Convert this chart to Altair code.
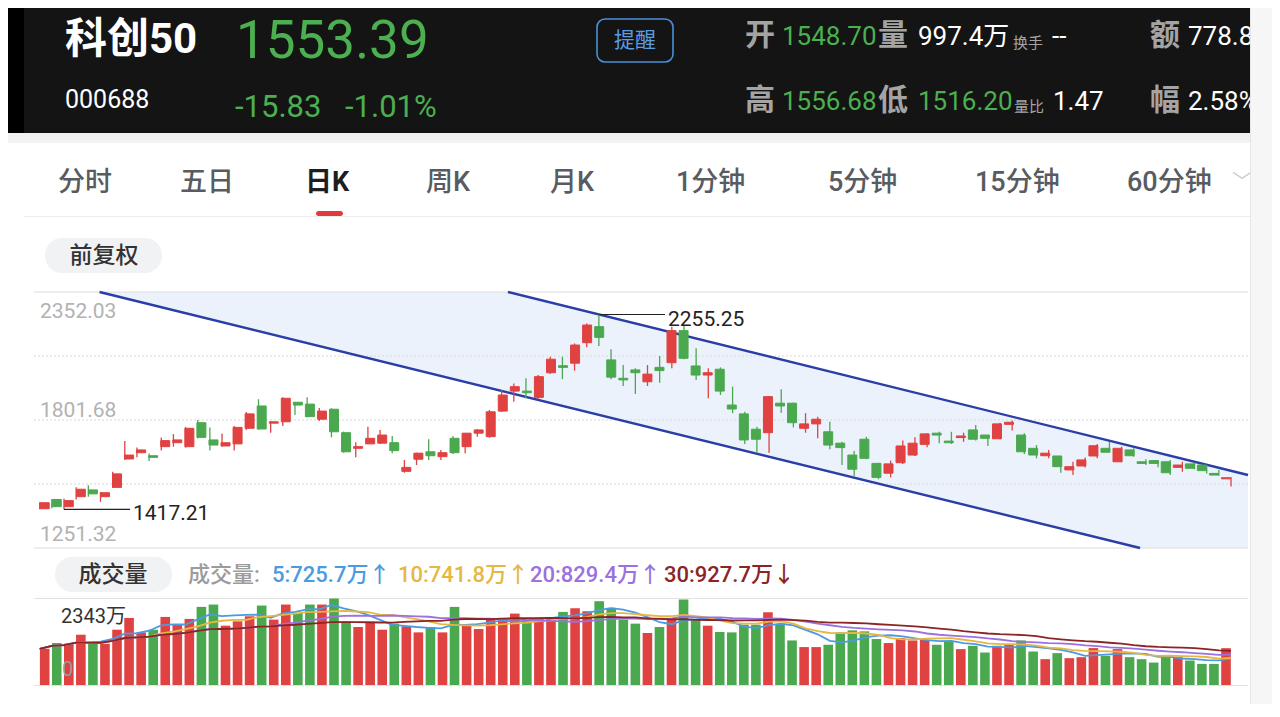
import altair as alt
import numpy as np
import pandas as pd

# ---------------- data ----------------
opens = [1420, 1460, 1429, 1472, 1501, 1472, 1512, 1634, 1661, 1648,
         1687, 1704, 1687, 1790, 1716, 1690, 1699, 1766, 1862, 1788,
         1794, 1878, 1870, 1805, 1848, 1747, 1680, 1699, 1702, 1704,
         1581, 1633, 1665, 1644, 1723, 1687, 1745, 1730, 1840, 1926,
         1926, 1899, 2005, 2035, 2046, 2134, 2203, 2060, 1981, 2017,
         1966, 2028, 2048, 2186, 2034, 1995, 2020, 1866, 1828, 1762,
         1747, 1874, 1874, 1766, 1785, 1751, 1702, 1651, 1719, 1615,
         1573, 1618, 1651, 1697, 1745, 1711, 1726, 1759, 1737, 1721,
         1783, 1737, 1680, 1648, 1647, 1587, 1604, 1647, 1680, 1622,
         1673, 1622, 1627, 1622, 1598, 1613, 1608, 1572, 1548.70]
highs = [1448, 1462, 1463, 1512, 1521, 1492, 1579, 1711, 1683, 1658,
         1726, 1741, 1772, 1802, 1769, 1744, 1776, 1836, 1891, 1795,
         1899, 1879, 1899, 1853, 1852, 1752, 1706, 1773, 1759, 1733,
         1630, 1661, 1719, 1673, 1733, 1745, 1762, 1845, 1931, 1959,
         1981, 1995, 2074, 2074, 2131, 2217, 2255.25, 2106, 2038, 2024,
         2038, 2077, 2203, 2210, 2110, 2024, 2028, 1945, 1837, 1773,
         1905, 1934, 1876, 1831, 1816, 1794, 1708, 1668, 1730, 1618,
         1627, 1713, 1727, 1745, 1751, 1751, 1747, 1780, 1737, 1790,
         1799, 1745, 1694, 1673, 1647, 1622, 1640, 1699, 1708, 1687,
         1680, 1633, 1630, 1630, 1622, 1618, 1608, 1587, 1556.68]
lows = [1418, 1422, 1417.21, 1460, 1472, 1450, 1510, 1630, 1641, 1625,
        1670, 1687, 1683, 1722, 1670, 1687, 1670, 1759, 1760, 1747,
        1776, 1823, 1813, 1797, 1727, 1661, 1641, 1698, 1699, 1659,
        1575, 1608, 1630, 1630, 1656, 1659, 1730, 1726, 1837, 1880,
        1895, 1891, 1999, 1977, 2014, 2114, 2120, 1977, 1948, 1913,
        1948, 1962, 2024, 2063, 1974, 1895, 1909, 1831, 1699, 1659,
        1661, 1833, 1770, 1747, 1723, 1676, 1608, 1561, 1633, 1547,
        1555, 1613, 1647, 1684, 1702, 1699, 1708, 1713, 1690, 1719,
        1756, 1656, 1637, 1637, 1575, 1565, 1597, 1637, 1663, 1620,
        1644, 1608, 1598, 1565, 1579, 1590, 1572, 1562, 1516.20]
closes = [1446, 1429, 1455, 1504, 1484, 1489, 1570, 1651, 1673, 1641,
          1713, 1716, 1766, 1727, 1694, 1704, 1770, 1828, 1763, 1794,
          1895, 1866, 1816, 1840, 1751, 1665, 1687, 1723, 1737, 1670,
          1598, 1659, 1648, 1661, 1661, 1745, 1759, 1837, 1909, 1945,
          1919, 1988, 2063, 2028, 2124, 2210, 2157, 1986, 1974, 2005,
          1999, 2014, 2186, 2067, 1995, 2005, 1926, 1849, 1716, 1719,
          1902, 1862, 1790, 1785, 1805, 1694, 1683, 1590, 1637, 1555,
          1613, 1690, 1702, 1742, 1737, 1704, 1733, 1719, 1723, 1785,
          1792, 1665, 1651, 1659, 1601, 1601, 1630, 1691, 1663, 1680,
          1648, 1615, 1615, 1575, 1608, 1594, 1584, 1565, 1553.39]
volumes = [981, 1136, 1120, 1362, 1152, 1117, 1498, 1816, 1425, 1498,
           1844, 1634, 1790, 2116, 2179, 1607, 1725, 1861, 2152, 1771,
           2179, 1953, 2179, 2179, 2343, 1725, 1571, 1680, 1498, 1662,
           1589, 1425, 1571, 1425, 2116, 1607, 1516, 1771, 1752, 1934,
           1725, 1816, 1816, 1980, 2079, 1998, 2270, 2089, 1771, 1662,
           1408, 1571, 1816, 2315, 1771, 1607, 1435, 1425, 1634, 1634,
           1970, 1634, 1207, 1027, 1027, 1090, 1425, 1480, 1453, 1245,
           1136, 1271, 1207, 1226, 1090, 1180, 972, 1062, 880, 1062,
           1090, 1207, 907, 700, 863, 727, 754, 1000, 790, 972,
           754, 700, 608, 772, 754, 663, 572, 572, 997.4]

price_top, price_bottom = 2352.03, 1251.32
grid_prices = [2076.85, 1801.68, 1526.50]
axis_labels = ["2352.03", "1801.68", "1251.32"]
max_idx, max_price = 46, 2255.25
min_idx, min_price = 2, 1417.21
upper_i = [38.52, 99.40]
upper_p = [2352.03, 1565.2]
lower_i = [4.92, 90.52]
lower_p = [2352.03, 1251.32]
vol_max = 2343
ma_windows = [5, 10, 20, 30]
ma_last = [725.7, 741.8, 829.4, 927.7]
ma_trend = ["↑", "↑", "↑", "↓"]
ma_colors = ["#4b9be4", "#e6b741", "#9c70e0", "#8b2424"]

name, code = "科创50", "000688"
last, change, pct = "1553.39", "-15.83", "-1.01%"
q_open, q_high, q_low = "1548.70", "1556.68", "1516.20"
q_vol, q_turn, q_amt = "997.4万", "--", "778.82亿"
q_ratio, q_amp = "1.47", "2.58%"
tabs = ["分时", "五日", "日K", "周K", "月K", "1分钟", "5分钟", "15分钟", "60分钟"]

# ---------------- helpers ----------------
RED, GREEN = "#e04141", "#4aa84f"
NUM = "Roboto, Noto Sans CJK SC"
CJK = "Noto Sans CJK SC"
ONE = pd.DataFrame({"k": [0]})


def V(v):
    return v - 8


def txt(s, x, y, size, color, weight="normal", font=NUM, align="left"):
    return alt.Chart(ONE).mark_text(
        text=s, align=align, baseline="middle", fontSize=size, color=color,
        fontWeight=weight, font=font
    ).encode(x=alt.value(V(x)), y=alt.value(V(y)))


def box(x1, y1, x2, y2, fill, r=0, stroke=None, sw=1.0):
    kw = dict(fill=fill, cornerRadius=r)
    if stroke:
        kw.update(stroke=stroke, strokeWidth=sw)
    return alt.Chart(ONE).mark_rect(**kw).encode(
        x=alt.value(V(x1)), x2=alt.value(V(x2)), y=alt.value(V(y1)), y2=alt.value(V(y2)))


def hline(x1, x2, y, color, sw=1.0):
    return alt.Chart(ONE).mark_rule(color=color, strokeWidth=sw).encode(
        x=alt.value(V(x1)), x2=alt.value(V(x2)), y=alt.value(V(y)))


XS = alt.Scale(domain=[0, 98], range=[31.7, 1223], zero=False, nice=False)
PS = alt.Scale(domain=[price_bottom, price_top], range=[540, 284], zero=False, nice=False)
VS = alt.Scale(domain=[0, vol_max], range=[677, 590.5], zero=False, nice=False)
CS = alt.Scale(domain=["up", "down"], range=[RED, GREEN])

n = len(closes)
df = pd.DataFrame({"i": np.arange(n), "open": opens, "high": highs, "low": lows,
                   "close": closes, "vol": volumes})
df["dir"] = np.where(df["close"] >= df["open"], "up", "down")
df["base"] = 0.0

X = alt.X("i:Q", scale=XS, axis=None)

layers = []

# ---------------- header ----------------
layers.append(box(0, 0, 1250, 133, "#141414"))
layers.append(box(0, 0, 24, 133, "#000000"))
layers.append(txt(name, 65, 40, 42, "white", "bold"))
layers.append(txt(last, 236, 42, 53, "#4caf50"))
layers.append(txt(code, 65, 100, 25, "white"))
layers.append(txt(change, 235, 108, 31, "#4caf50"))
layers.append(txt(pct, 345, 108, 31, "#4caf50"))
layers.append(box(597, 19, 673, 62, "transparent", r=8, stroke="#4a8fd8", sw=1.6))
layers.append(txt("提醒", 635, 41, 21, "#5a9de3", font=CJK, align="center"))
GRAY_H = "#a4a4a4"
for lab, val, xl, xv, yy, col in [
    ("开", q_open, 745, 782, 36, "#4caf50"),
    ("量", q_vol, 878, 918, 36, "white"),
    ("额", q_amt, 1150, 1188, 36, "white"),
    ("高", q_high, 745, 782, 101, "#4caf50"),
    ("低", q_low, 878, 918, 101, "#4caf50"),
    ("幅", q_amp, 1150, 1188, 101, "white"),
]:
    layers.append(txt(lab, xl, yy, 30, GRAY_H, "bold", font=CJK))
    layers.append(txt(val, xv, yy + 1, 26, col))
layers.append(txt("换手", 1013, 43, 15, GRAY_H, font=CJK))
layers.append(txt(q_turn, 1052, 37, 26, "white"))
layers.append(txt("量比", 1014, 107, 15, GRAY_H, font=CJK))
layers.append(txt(q_ratio, 1053, 102, 26, "white"))

# ---------------- tabs ----------------
layers.append(box(0, 133, 1250, 143, "#f2f2f2"))
tab_x = [58, 180, 305, 426, 550, 676, 828, 975, 1127]
for t, tx in zip(tabs, tab_x):
    sel = t == "日K"
    layers.append(txt(t, tx, 183, 27, "#1e1e1e" if sel else "#585b60",
                      "bold" if sel else 500))
layers.append(txt("﹀", 1232, 183, 20, "#cccccc", font=CJK))
layers.append(box(316, 211, 343, 216, "#e0393e", r=2.5))
layers.append(hline(24, 1250, 216.5, "#ececec"))
layers.append(box(45, 238, 162, 273, "#f1f2f4", r=17))
layers.append(txt("前复权", 104, 256, 23, "#333333", 500, font=CJK, align="center"))

# ---------------- candle panel ----------------
ui = np.array(upper_i); up_ = np.array(upper_p)
li = np.array(lower_i); lp_ = np.array(lower_p)
xs = np.array([lower_i[0], upper_i[0], lower_i[1], upper_i[1]])
def line_at(xa, xp, yp):
    return yp[0] + (xa - xp[0]) * (yp[1] - yp[0]) / (xp[1] - xp[0])
top_b = np.minimum(line_at(xs, ui, up_), price_top)
bot_b = np.maximum(line_at(xs, li, lp_), price_bottom)
shade = pd.DataFrame({"i": xs, "top": top_b, "bot": bot_b})
layers.append(alt.Chart(shade).mark_area(color="#ecf2fb", opacity=1).encode(
    x=X, y=alt.Y("top:Q", scale=PS, axis=None), y2="bot:Q"))

frame = pd.DataFrame({"p": [price_top, price_bottom]})
layers.append(alt.Chart(frame).mark_rule(color="#dcdcdc", strokeWidth=1).encode(
    y=alt.Y("p:Q", scale=PS, axis=None), x=alt.value(V(34)), x2=alt.value(V(1248))))
grid = pd.DataFrame({"p": grid_prices})
layers.append(alt.Chart(grid).mark_rule(color="#d6d6d6", strokeWidth=1, strokeDash=[2, 2]).encode(
    y=alt.Y("p:Q", scale=PS, axis=None), x=alt.value(V(34)), x2=alt.value(V(1248))))

lab_df = pd.DataFrame({"p": [price_top, float(axis_labels[1]), price_bottom], "t": axis_labels})
for k, dy in enumerate([19.5, -8.5, -13.5]):
    layers.append(alt.Chart(lab_df.iloc[[k]]).mark_text(
        align="left", baseline="middle", dy=dy, fontSize=21, color="#b2b2b2", font=NUM
    ).encode(y=alt.Y("p:Q", scale=PS, axis=None), x=alt.value(V(40)), text="t:N"))

chan = pd.DataFrame({"i": upper_i + lower_i, "p": upper_p + lower_p,
                     "line": ["u", "u", "l", "l"]})
layers.append(alt.Chart(chan).mark_line(color="#2a3ea6", strokeWidth=2.4).encode(
    x=X, y=alt.Y("p:Q", scale=PS, axis=None), detail="line:N"))

layers.append(alt.Chart(df).mark_rule(strokeWidth=1.3).encode(
    x=X, y=alt.Y("low:Q", scale=PS, axis=None), y2="high:Q",
    color=alt.Color("dir:N", scale=CS, legend=None)))
layers.append(alt.Chart(df).mark_bar(size=9, strokeWidth=1).encode(
    x=X, y=alt.Y("open:Q", scale=PS, axis=None), y2="close:Q",
    color=alt.Color("dir:N", scale=CS, legend=None),
    stroke=alt.Stroke("dir:N", scale=CS, legend=None)))

ext = pd.DataFrame({"i": [max_idx, min_idx], "p": [max_price, min_price],
                    "t": [f"{max_price:.2f}", f"{min_price:.2f}"]})
layers.append(alt.Chart(ext.iloc[[0]]).mark_rule(color="#222222", strokeWidth=1.2).encode(
    x=X, x2=alt.value(V(665)), y=alt.Y("p:Q", scale=PS, axis=None)))
layers.append(alt.Chart(ext.iloc[[0]]).mark_text(
    align="left", baseline="middle", dy=5, fontSize=21, color="#222222", font=NUM
).encode(x=alt.value(V(668)), y=alt.Y("p:Q", scale=PS, axis=None), text="t:N"))
layers.append(alt.Chart(ext.iloc[[1]]).mark_rule(color="#222222", strokeWidth=1.2).encode(
    x=X, x2=alt.value(V(130)), y=alt.Y("p:Q", scale=PS, axis=None)))
layers.append(alt.Chart(ext.iloc[[1]]).mark_text(
    align="left", baseline="middle", dy=5, fontSize=21, color="#222222", font=NUM
).encode(x=alt.value(V(133)), y=alt.Y("p:Q", scale=PS, axis=None), text="t:N"))

# ---------------- volume panel ----------------
layers.append(box(55, 557, 172, 592, "#f1f2f4", r=17))
layers.append(txt("成交量", 113, 575, 23, "#333333", 500, font=CJK, align="center"))
layers.append(txt("成交量:", 188, 575, 22, "#9b9b9b", 500))
ma_x = [272, 398, 530, 664]
for w, v, a, c, mx in zip(ma_windows, ma_last, ma_trend, ma_colors, ma_x):
    layers.append(txt(f"{w}:{v}万{a}", mx, 575, 22, c, 500))
layers.append(hline(34, 1248, 598.5, "#e2e2e2"))
layers.append(hline(34, 1248, 685.5, "#e2e2e2"))

layers.append(alt.Chart(df).mark_bar(size=9.6).encode(
    x=X, y=alt.Y("vol:Q", scale=VS, axis=None), y2="base:Q",
    color=alt.Color("dir:N", scale=CS, legend=None)))

vs = pd.Series(volumes, dtype=float)
for w, c in zip(ma_windows, ma_colors):
    mdf = pd.DataFrame({"i": np.arange(n), "m": vs.rolling(w, min_periods=1).mean()})
    layers.append(alt.Chart(mdf).mark_line(color=c, strokeWidth=1.8).encode(
        x=X, y=alt.Y("m:Q", scale=VS, axis=None)))

layers.append(txt(f"{vol_max}万", 61, 617, 20, "#333333"))
layers.append(txt("0", 62, 670, 20, "#9a9a9a"))

# ---------------- right sidebar ----------------
layers.append(box(1250, 0, 1290, 720, "#f6f6f6"))
layers.append(alt.Chart(ONE).mark_rule(color="#e6e6e6", strokeWidth=1).encode(
    x=alt.value(V(1250.5)), y=alt.value(V(0)), y2=alt.value(V(717))))

chart = alt.layer(*layers).resolve_scale(
    x="independent", y="independent"
).properties(
    width=1264, height=696, padding=0,
    autosize=alt.AutoSizeParams(type="none"), background="white"
).configure_view(stroke=None)

chart.save("out.html", embed_options={"renderer": "svg", "actions": False})
